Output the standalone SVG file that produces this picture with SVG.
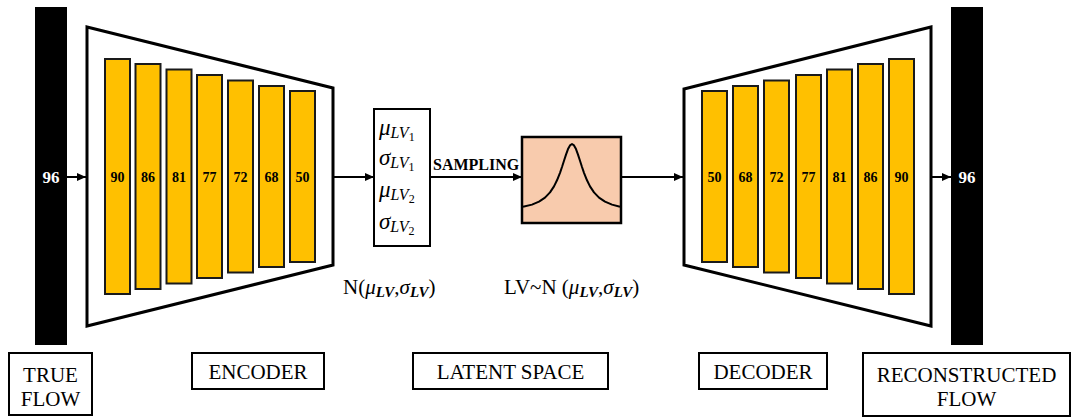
<svg xmlns="http://www.w3.org/2000/svg" width="1072" height="418" viewBox="0 0 1072 418">
<style>
.bar{fill:#FFC000;stroke:#1a1a1a;stroke-width:2}
.num{font-family:"Liberation Serif","Times New Roman",serif;font-weight:bold;font-size:14px;fill:#000;text-anchor:middle}
.trap{fill:#fff;stroke:#000;stroke-width:3;stroke-linejoin:miter}
.conn{stroke:#000;stroke-width:2;fill:none}
.lbl{font-family:"Liberation Serif","Times New Roman",serif;font-size:21px;fill:#000;text-anchor:middle}
.box{fill:#fff;stroke:#000;stroke-width:2}
.m{font-family:"Liberation Serif","Times New Roman",serif;fill:#000}
</style>
<defs>
<marker id="ah" markerUnits="userSpaceOnUse" markerWidth="10" markerHeight="10" refX="9" refY="5" orient="auto">
<path d="M0,1 L9,5 L0,9 Z" fill="#000"/>
</marker>
</defs>
<g id="true-flow">
<rect x="35" y="7" width="32" height="338" fill="#000"/>
<text x="51" y="183" class="num" style="fill:#fff;font-size:17px">96</text>
</g>
<g id="encoder">
<polygon class="trap" points="87,27 333,88 333,265 87,326"/>
<rect class="bar" x="105" y="59" width="25" height="235"/>
<rect class="bar" x="135.5" y="64" width="25" height="225"/>
<rect class="bar" x="166.5" y="69.5" width="25" height="214"/>
<rect class="bar" x="197" y="75" width="25" height="203"/>
<rect class="bar" x="228" y="80.5" width="25" height="192"/>
<rect class="bar" x="259" y="86" width="25" height="181"/>
<rect class="bar" x="290" y="91" width="25" height="171"/>
<text class="num" x="117.5" y="182">90</text>
<text class="num" x="148" y="182">86</text>
<text class="num" x="179" y="182">81</text>
<text class="num" x="209.5" y="182">77</text>
<text class="num" x="240.5" y="182">72</text>
<text class="num" x="271.5" y="182">68</text>
<text class="num" x="302.5" y="182">50</text>
</g>
<g id="latent-params">
<rect class="box" x="374" y="109" width="56" height="137"/>
<text class="m" x="379" y="135"><tspan font-style="italic" font-size="23">μ</tspan><tspan font-style="italic" font-size="16" dy="3">LV</tspan><tspan font-size="12" dy="3">1</tspan></text>
<text class="m" x="379" y="165"><tspan font-style="italic" font-size="23">σ</tspan><tspan font-style="italic" font-size="16" dy="3">LV</tspan><tspan font-size="12" dy="3">1</tspan></text>
<text class="m" x="379" y="197"><tspan font-style="italic" font-size="23">μ</tspan><tspan font-style="italic" font-size="16" dy="3">LV</tspan><tspan font-size="12" dy="3">2</tspan></text>
<text class="m" x="379" y="229"><tspan font-style="italic" font-size="23">σ</tspan><tspan font-style="italic" font-size="16" dy="3">LV</tspan><tspan font-size="12" dy="3">2</tspan></text>
<text class="m" x="343" y="294" font-size="21">N(<tspan font-style="italic">μ</tspan><tspan font-style="italic" font-weight="bold" font-size="15" dy="3">LV</tspan><tspan dy="-3">,</tspan><tspan font-style="italic">σ</tspan><tspan font-style="italic" font-weight="bold" font-size="15" dy="3">LV</tspan><tspan dy="-3">)</tspan></text>
</g>
<g id="sampling">
<rect x="522" y="137" width="99" height="86" fill="#F8CBAD" stroke="#000" stroke-width="2.5"/>
<polyline fill="none" stroke="#000" stroke-width="2" stroke-linejoin="round" points="523,206.7 532,204.6 539,201.6 545,197.6 550,192.4 554,186.4 557,180.3 560,172.8 562,167 564,160.7 566,154.6 568,149.1 570,145.4 572,144 574,145.4 576,149.1 578,154.6 580,160.7 582,167 584,172.8 587,180.3 590,186.4 594,192.4 599,197.6 605,201.6 612,204.6 620,206.7"/>
<text class="m" x="504" y="294" font-size="21">LV~N (<tspan font-style="italic">μ</tspan><tspan font-style="italic" font-weight="bold" font-size="15" dy="3">LV</tspan><tspan dy="-3">,</tspan><tspan font-style="italic">σ</tspan><tspan font-style="italic" font-weight="bold" font-size="15" dy="3">LV</tspan><tspan dy="-3">)</tspan></text>
</g>
<g id="decoder">
<polygon class="trap" points="684,89 931,27 931,326 684,265"/>
<rect class="bar" x="702" y="91" width="25" height="171"/>
<rect class="bar" x="733" y="86" width="25" height="181"/>
<rect class="bar" x="764" y="80.5" width="25" height="192"/>
<rect class="bar" x="796" y="75" width="25" height="203"/>
<rect class="bar" x="827" y="69.5" width="25" height="214"/>
<rect class="bar" x="858" y="64" width="25" height="225"/>
<rect class="bar" x="889" y="59" width="25" height="235"/>
<text class="num" x="714.5" y="182">50</text>
<text class="num" x="745.5" y="182">68</text>
<text class="num" x="776.5" y="182">72</text>
<text class="num" x="808.5" y="182">77</text>
<text class="num" x="839.5" y="182">81</text>
<text class="num" x="870.5" y="182">86</text>
<text class="num" x="901.5" y="182">90</text>
</g>
<g id="reconstructed-flow">
<rect x="951" y="7" width="32" height="338" fill="#000"/>
<text x="967" y="183" class="num" style="fill:#fff;font-size:17px">96</text>
</g>
<g id="connectors">
<line class="conn" x1="67" y1="177" x2="86" y2="177" marker-end="url(#ah)"/>
<line class="conn" x1="333" y1="177" x2="374" y2="177" marker-end="url(#ah)"/>
<line class="conn" x1="430" y1="177" x2="522" y2="177" marker-end="url(#ah)"/>
<line class="conn" x1="621" y1="177" x2="683" y2="177" marker-end="url(#ah)"/>
<line class="conn" x1="931" y1="177" x2="951" y2="177" marker-end="url(#ah)"/>
<text x="433" y="170" font-family="Liberation Serif, Times New Roman, serif" font-weight="bold" font-size="16">SAMPLING</text>
</g>
<g id="label-true-flow">
<rect class="box" x="9" y="353" width="83" height="62"/>
<text class="lbl" x="50.5" y="382">TRUE</text>
<text class="lbl" x="50.5" y="406">FLOW</text>
</g>
<g id="label-encoder">
<rect class="box" x="192" y="353" width="132" height="36"/>
<text class="lbl" x="258" y="379">ENCODER</text>
</g>
<g id="label-latent">
<rect class="box" x="413" y="353" width="195" height="36"/>
<text class="lbl" x="510.5" y="379">LATENT SPACE</text>
</g>
<g id="label-decoder">
<rect class="box" x="699" y="353" width="128" height="36"/>
<text class="lbl" x="763" y="379">DECODER</text>
</g>
<g id="label-reconstructed">
<rect class="box" x="863" y="353" width="207" height="63"/>
<text class="lbl" x="966.5" y="382">RECONSTRUCTED</text>
<text class="lbl" x="966.5" y="406">FLOW</text>
</g>
</svg>
